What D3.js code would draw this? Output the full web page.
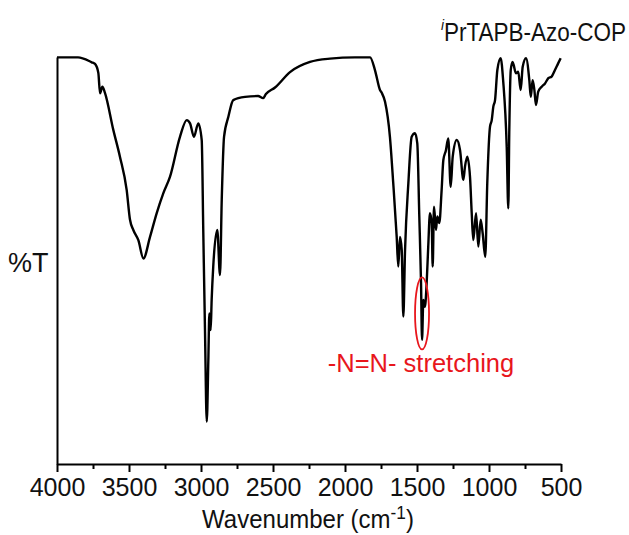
<!DOCTYPE html>
<html>
<head>
<meta charset="utf-8">
<script src="https://cdn.jsdelivr.net/npm/d3@7"></script>
<style>
  html, body { margin: 0; padding: 0; background: #fff; }
  svg text { font-family: "Liberation Sans", Arial, sans-serif; }
</style>
</head>
<body>
<svg id="chart" width="629" height="535"></svg>
<script>
// ---- data ----
const wavenumber = [4000,3854,3759,3736,3713,3701,3685,3667,3609,3563,3516,3493,3470,3435,3400,3354,3308,3262,3215,3146,3099,3076,3049,3019,2995,2984,2972,2960,2949,2942,2933,2926,2915,2887,2868,2856,2840,2810,2776,2694,2604,2569,2549,2486,2382,2243,2104,1931,1826,1792,1757,1745,1722,1688,1665,1641,1630,1618,1606,1595,1583,1560,1537,1514,1498,1484,1472,1465,1456,1445,1433,1422,1410,1398,1391,1382,1368,1359,1345,1329,1317,1299,1283,1266,1252,1224,1201,1178,1167,1151,1132,1120,1109,1090,1074,1058,1044,1026,1012,993,981,970,958,942,919,901,877,866,859,849,836,813,797,780,766,743,720,710,697,685,674,658,634,611,588,565,542,519,502];
const transmittance = [99.9,99.9,98.7,98.3,96.1,91.1,92.7,91.2,82.1,75.5,67.3,60.0,57.5,55.0,50.5,55.8,61.6,66.5,70.6,80.4,84.5,83.7,80.4,83.7,79.6,56.8,32.2,10.4,25.6,37.0,32.9,40.3,48.5,57.5,46.4,64.9,80.4,85.3,89.4,90.2,90.4,89.9,90.9,92.5,96.3,98.8,99.6,99.9,99.9,96.8,91.9,91.2,89.0,80.4,69.0,55.8,48.5,55.8,52.6,36.2,52.6,69.0,80.4,81.3,78.8,60.8,44.5,30.5,40.3,38.6,44.4,53.4,61.6,59.2,48.5,63.2,57.5,60.8,59.2,67.3,74.7,77.1,80.0,68.1,75.5,79.6,77.1,69.8,73.0,75.5,70.6,61.6,55.0,61.6,53.4,60.0,56.7,50.9,69.0,82.9,84.5,87.8,89.4,96.8,99.7,93.9,77.9,62.8,82.1,96.8,98.8,96.0,96.4,91.9,97.6,99.7,94.3,90.2,94.3,91.9,88.2,91.5,92.7,93.5,94.8,95.2,96.8,98.5,99.7];
const majorTicks = [4000,3500,3000,2500,2000,1500,1000,500];
const minorTicks = [3750,3250,2750,2250,1750,1250,750];
const xTitle = "Wavenumber (cm";
const xTitleSup = "-1";
const yTitle = "%T";
const seriesPrefix = "i";
const seriesName = "PrTAPB-Azo-COP";
const annotationText = "-N=N- stretching";
const annotationPeak = [1465, 37];

// ---- layout ----
const svg = d3.select("#chart");
const mLeft = 57, mRight = 561, mTop = 57, mBottom = 464;
const x = d3.scaleLinear().domain([4000, 500]).range([mLeft, mRight]);
const y = d3.scaleLinear().domain([0, 100]).range([mBottom, mTop]);

// bottom axis (major)
const gx = svg.append("g").attr("transform", `translate(0,${mBottom})`)
  .call(d3.axisBottom(x).tickValues(majorTicks).tickSize(8).tickSizeOuter(0)
    .tickPadding(6).tickFormat(d3.format("d")));
gx.select(".domain").attr("stroke", "#000").attr("stroke-width", 2);
gx.selectAll(".tick line").attr("stroke", "#000").attr("stroke-width", 2);
gx.selectAll(".tick text").attr("font-size", 25).attr("fill", "#111")
  .attr("font-family", "Liberation Sans, Arial, sans-serif");
// minor ticks
svg.append("g").attr("transform", `translate(0,${mBottom})`)
  .call(d3.axisBottom(x).tickValues(minorTicks).tickSize(5).tickSizeOuter(0).tickFormat(""))
  .call(g => g.select(".domain").remove())
  .selectAll(".tick line").attr("stroke", "#000").attr("stroke-width", 2);

// left axis line
svg.append("g").attr("transform", `translate(${mLeft},0)`)
  .call(d3.axisLeft(y).tickValues([]).tickSizeOuter(0))
  .select(".domain").attr("stroke", "#000").attr("stroke-width", 2);

// spectrum
const data = wavenumber.map((w, i) => [w, transmittance[i]]);
svg.append("path")
  .datum(data)
  .attr("fill", "none")
  .attr("stroke", "#000")
  .attr("stroke-width", 2.4)
  .attr("stroke-linejoin", "round")
  .attr("d", d3.line().x(d => x(d[0])).y(d => y(d[1])).curve(d3.curveMonotoneX));

// axis titles
const xt = svg.append("g").attr("transform", "translate(308,528) scale(0.96,1)")
  .append("text").attr("x", 0).attr("y", 0).attr("text-anchor", "middle")
  .attr("font-size", 25).attr("fill", "#111");
xt.append("tspan").text(xTitle);
xt.append("tspan").attr("font-size", 18).attr("dy", -9).text(xTitleSup);
xt.append("tspan").attr("dy", 9).text(")");

svg.append("text").attr("x", 8).attr("y", 272).attr("font-size", 27).attr("fill", "#111").text(yTitle);

// series label
const st = svg.append("g").attr("transform", "translate(626,41) scale(0.9,1)")
  .append("text").attr("x", 0).attr("y", 0).attr("text-anchor", "end")
  .attr("font-size", 25).attr("fill", "#111");
st.append("tspan").attr("font-size", 15).attr("font-style", "italic").attr("dy", -11).text(seriesPrefix);
st.append("tspan").attr("dy", 11).text(seriesName);

// annotation
svg.append("ellipse")
  .attr("cx", x(annotationPeak[0])).attr("cy", y(annotationPeak[1]))
  .attr("rx", 7).attr("ry", 36)
  .attr("fill", "none").attr("stroke", "#e8161c").attr("stroke-width", 1.8);
svg.append("text").attr("x", 421).attr("y", 372).attr("text-anchor", "middle")
  .attr("font-size", 25.5).attr("fill", "#e8161c").text(annotationText);
</script>
</body>
</html>
